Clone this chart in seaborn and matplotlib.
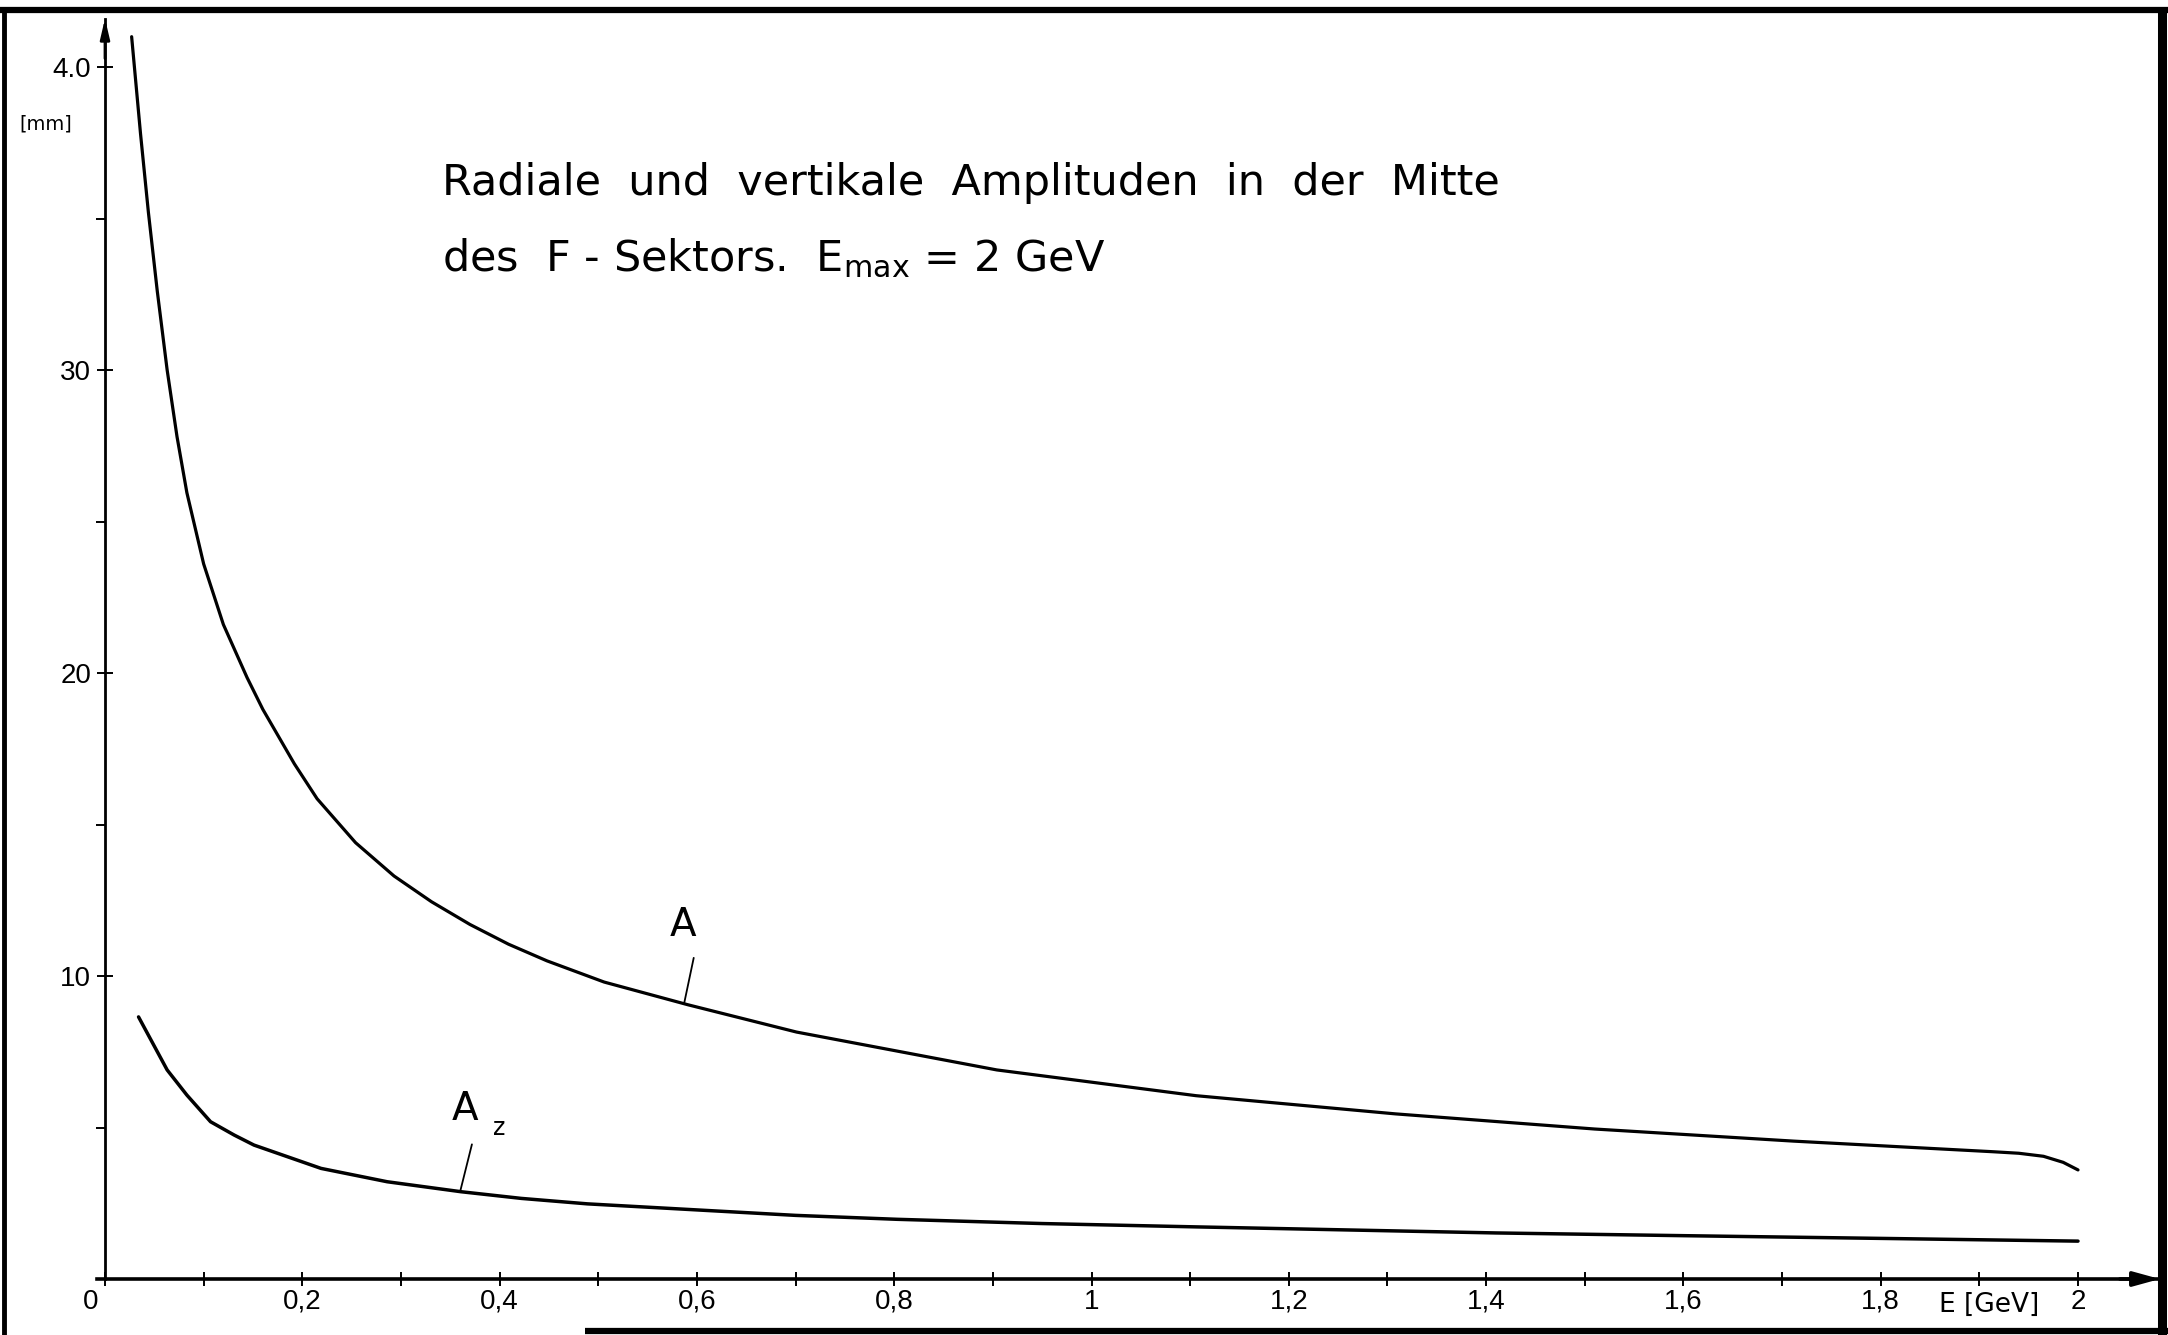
import numpy as np
import pandas as pd
import matplotlib
matplotlib.use("Agg")
import matplotlib.pyplot as plt
import matplotlib.transforms as mtransforms
from matplotlib.lines import Line2D
import seaborn as sns

# Radial amplitude A and vertical amplitude A_z [mm] versus energy E [GeV]
energy_radial = [0.027, 0.036, 0.044, 0.053, 0.063, 0.073, 0.083, 0.100, 0.120,
                 0.144, 0.160, 0.192, 0.215, 0.254, 0.293, 0.331, 0.370, 0.409,
                 0.448, 0.506, 0.591, 0.701, 0.904, 1.106, 1.308, 1.510,
                 1.712, 1.914, 1.940, 1.965, 1.985, 2.000]
amp_radial = [41.0, 37.8, 35.2, 32.6, 30.0, 27.8, 25.95, 23.6, 21.6,
              19.85, 18.8, 17.0, 15.85, 14.4, 13.3, 12.45, 11.7, 11.05,
              10.5, 9.8, 9.05, 8.15, 6.9, 6.05, 5.45, 4.95,
              4.55, 4.2, 4.15, 4.05, 3.85, 3.6]

energy_vertical = [0.034, 0.063, 0.083, 0.107, 0.131, 0.151, 0.219, 0.286, 0.361,
                   0.422, 0.489, 0.600, 0.700, 0.803, 0.950, 1.106, 1.410, 1.600,
                   1.800, 2.000]
amp_vertical = [8.65, 6.9, 6.07, 5.19, 4.75, 4.42, 3.65, 3.21, 2.88,
                2.66, 2.48, 2.28, 2.1, 1.97, 1.83, 1.72, 1.52, 1.43,
                1.34, 1.25]

x_major = [0.0, 0.2, 0.4, 0.6, 0.8, 1.0, 1.2, 1.4, 1.6, 1.8, 2.0]
x_major_labels = ["0", "0,2", "0,4", "0,6", "0,8", "1", "1,2", "1,4", "1,6", "1,8", "2"]
x_minor = [0.1, 0.3, 0.5, 0.7, 0.9, 1.1, 1.3, 1.5, 1.7, 1.9]
y_major = [10, 20, 30, 40]
y_major_labels = ["10", "20", "30", "4.0"]
y_minor = [5, 15, 25, 35]

title_line1 = "Radiale  und  vertikale  Amplituden  in  der  Mitte"
title_line2 = r"des  F - Sektors.  $\mathregular{E_{max}}$ = 2 GeV"

sns.set_style("white")
plt.rcParams["font.family"] = ["DejaVu Sans"]
plt.rcParams["mathtext.fontset"] = "custom"
plt.rcParams["text.color"] = "black"
tick_font = ["Liberation Sans", "DejaVu Sans"]

W, H, DPI = 2168, 1335, 100
fig = plt.figure(figsize=(W / DPI, H / DPI), dpi=DPI, facecolor="white")

# axes box in pixel units, data origin at (105, 1279)
x_lo, x_hi = -0.008, 2.083
y_lo, y_hi = 0.0, 41.6
x0_px, y0_px = 105.0, 1279.0
px_per_x, px_per_y = 986.5, 30.3
ax = fig.add_axes([(x0_px + x_lo * px_per_x) / W, (H - y0_px) / H,
                   (x_hi - x_lo) * px_per_x / W, (y_hi - y_lo) * px_per_y / H])
ax.set_facecolor("none")

radial = pd.DataFrame({"E": energy_radial, "A": amp_radial})
vertical = pd.DataFrame({"E": energy_vertical, "A": amp_vertical})
sns.lineplot(data=radial, x="E", y="A", ax=ax, color="black", lw=2.3,
             sort=False, estimator=None, legend=False)
sns.lineplot(data=vertical, x="E", y="A", ax=ax, color="black", lw=2.5,
             sort=False, estimator=None, legend=False)

ax.set_xlim(x_lo, x_hi)
ax.set_ylim(y_lo, y_hi)
ax.set_xlabel("")
ax.set_ylabel("")

for side in ("top", "right"):
    ax.spines[side].set_visible(False)
ax.spines["left"].set_position(("data", 0))
ax.spines["left"].set_linewidth(2.0)
ax.spines["bottom"].set_linewidth(2.6)
ax.spines["left"].set_color("black")
ax.spines["bottom"].set_color("black")

ax.set_xticks(x_major)
ax.set_xticklabels(x_major_labels, fontfamily=tick_font)
ax.set_xticks(x_minor, minor=True)
ax.set_yticks(y_major)
ax.set_yticklabels(y_major_labels, fontfamily=tick_font)
ax.set_yticks(y_minor, minor=True)
ax.tick_params(bottom=True, left=True, which="both")
ax.tick_params(axis="x", which="both", direction="inout", length=10, width=1.4,
               color="black", labelsize=20, pad=2, labelcolor="black")
ax.tick_params(axis="y", which="major", direction="inout", length=12, width=1.4,
               color="black", labelsize=20, pad=4, labelcolor="black")
ax.tick_params(axis="y", which="minor", direction="out", length=6.5, width=1.4,
               color="black")

# the origin label sits left of the corner
lbl0 = ax.get_xticklabels()[0]
lbl0.set_transform(lbl0.get_transform() +
                   mtransforms.ScaledTranslation(-14 / DPI, 0, fig.dpi_scale_trans))

# axis arrows
ax.annotate("", xy=(1.0, 0), xycoords=ax.get_yaxis_transform(),
            xytext=(-40, 0), textcoords="offset pixels",
            arrowprops=dict(arrowstyle="-|>,head_length=0.8,head_width=0.22",
                            mutation_scale=20, color="black", lw=2.6,
                            shrinkA=0, shrinkB=0))
ax.annotate("", xy=(0, 1.0), xycoords=ax.get_xaxis_transform(),
            xytext=(0, -40), textcoords="offset pixels",
            arrowprops=dict(arrowstyle="-|>,head_length=0.6,head_width=0.14",
                            mutation_scale=20, color="black", lw=2.0,
                            shrinkA=0, shrinkB=0))

# axis units
ax.annotate("E [GeV]", xy=(1.91, 0), xycoords=ax.get_xaxis_transform(),
            xytext=(0, -13), textcoords="offset pixels",
            ha="center", va="top", fontsize=19)
fig.text(46 / W, 1 - 124 / H, "[mm]", ha="center", va="center", fontsize=14)

# curve labels with leader lines to the curves
e_a = 0.587
ax.annotate("A", xy=(e_a, np.interp(e_a, energy_radial, amp_radial)),
            xytext=(-14, 60), textcoords="offset pixels",
            ha="left", va="bottom", fontsize=28,
            arrowprops=dict(arrowstyle="-", color="black", lw=1.3,
                            relpos=(1.0, 0.0), shrinkA=8, shrinkB=0))
e_z = 0.360
z_val = np.interp(e_z, energy_vertical, amp_vertical)
ax.annotate("A", xy=(e_z, z_val),
            xytext=(-8, 64), textcoords="offset pixels",
            ha="left", va="bottom", fontsize=28,
            arrowprops=dict(arrowstyle="-", color="black", lw=1.3,
                            relpos=(0.9, 0.0), shrinkA=10, shrinkB=0))
ax.annotate("z", xy=(e_z, z_val), xytext=(33, 52), textcoords="offset pixels",
            ha="left", va="bottom", fontsize=17)

# heading
fig.text(442 / W, 1 - 195 / H, title_line1, ha="left", va="baseline", fontsize=31)
fig.text(442 / W, 1 - 271 / H, title_line2, ha="left", va="baseline", fontsize=31)

# drawing frame
frame_kw = dict(color="black", solid_capstyle="butt", transform=fig.transFigure)
fig.add_artist(Line2D([0, 1], [1 - 10 / H, 1 - 10 / H], lw=4.5, **frame_kw))
fig.add_artist(Line2D([4 / W, 4 / W], [0, 1 - 8 / H], lw=3.5, **frame_kw))
fig.add_artist(Line2D([1 - 6 / W, 1 - 6 / W], [0, 1 - 8 / H], lw=6.5, **frame_kw))
fig.add_artist(Line2D([585 / W, 1], [4 / H, 4 / H], lw=4.5, **frame_kw))

fig.savefig("out.png", dpi=DPI, facecolor="white")
